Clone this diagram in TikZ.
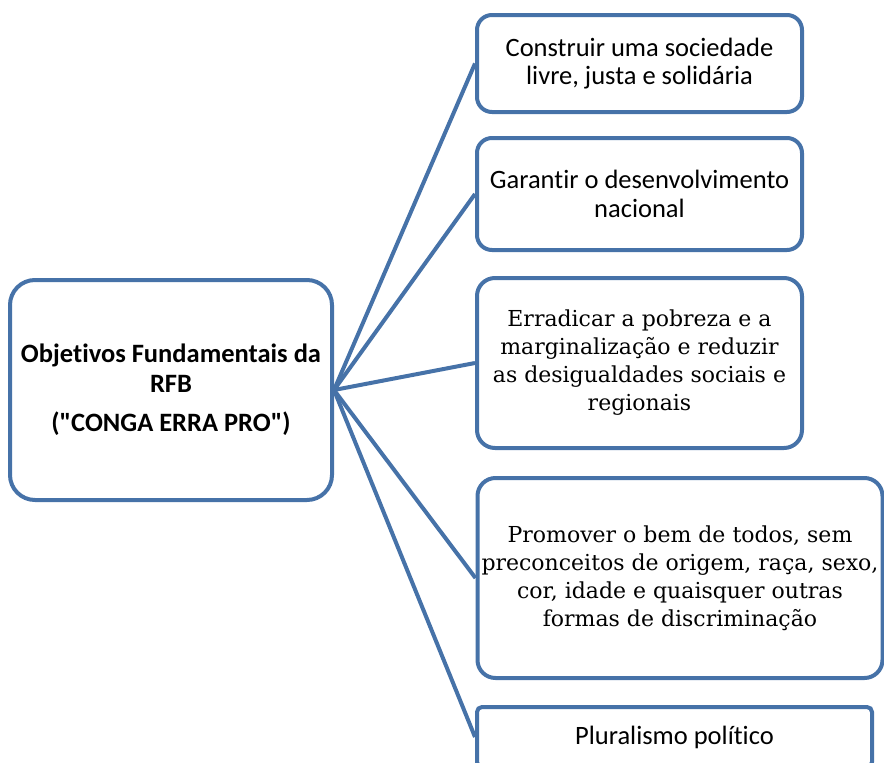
\documentclass[tikz,border=0pt]{standalone}
\usepackage{fontspec}
\setmainfont{Carlito}[Ligatures={TeX,NoCommon}]
\newfontfamily\camb{DejaVu Serif}
\definecolor{frame}{RGB}{70,114,168}

\begin{document}
\begin{tikzpicture}[
  x=1pt, y=-1pt,
  box/.style={draw=frame, line width=4pt, fill=white, align=center, inner sep=0pt},
  goal/.style={box, rounded corners=15pt, font=\fontsize{26.5}{28.5}\selectfont},
  srf/.style={box, rounded corners=18pt, font=\camb\fontsize{22}{28}\selectfont},
  link/.style={frame, line width=4pt},
]
  \useasboundingbox (0,0) rectangle (884,763);

  \node[box, rounded corners=25pt, minimum width=322pt, minimum height=220pt,
        font=\bfseries\fontsize{26.5}{30}\selectfont] (obj) at (171,390)
    {Objetivos Fundamentais da\\RFB\\[9pt](\textquotedbl CONGA ERRA PRO\textquotedbl)};

  \node[goal, minimum width=325pt, minimum height=97pt] (g1) at (639.5,63.5)
    {Construir uma sociedade\\livre, justa e solidária};
  \node[goal, minimum width=325pt, minimum height=112pt] (g2) at (639.5,194)
    {Garantir o desenvolvimento\\nacional};
  \node[srf, minimum width=325pt, minimum height=170pt] (g3) at (639.5,363)
    {Erradicar a pobreza e a\\marginalização e reduzir\\as desigualdades sociais e\\regionais};
  \node[srf, minimum width=405pt, minimum height=200pt] (g4) at (680,578)
    {Promover o bem de todos, sem\\preconceitos de origem, raça, sexo,\\cor, idade e quaisquer outras\\formas de discriminação};
  \node[goal, rounded corners=5pt, minimum width=395pt, minimum height=60pt] (g5) at (674.5,737)
    {Pluralismo político};

  \foreach \g in {g1, g2, g3, g4, g5}
    \draw[link] (obj.east) -- (\g.west);
\end{tikzpicture}
\end{document}
